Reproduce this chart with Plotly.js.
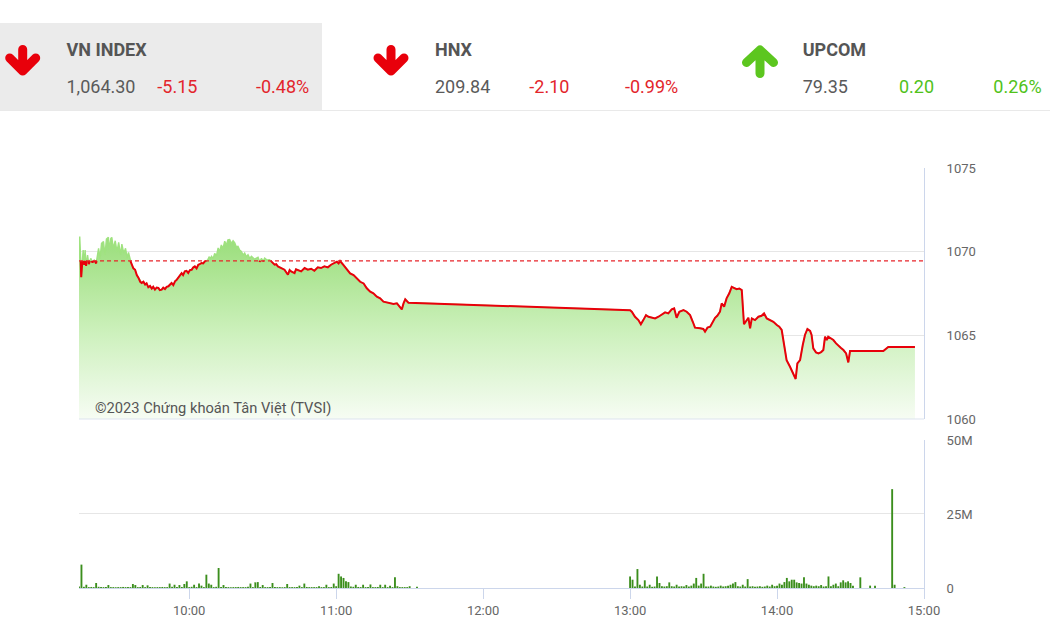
<!DOCTYPE html>
<html>
<head>
<meta charset="utf-8">
<script src="https://cdn.plot.ly/plotly-3.0.1.min.js"></script>
<style>
  html, body { margin:0; padding:0; background:#fff; }
  body { width:1050px; height:630px; position:relative; overflow:hidden; font-family: Roboto, "Noto Sans", sans-serif; }
  #chart { position:absolute; left:0; top:0; width:1050px; height:630px; }
  .hb { position:absolute; white-space:nowrap; line-height:18px; font-size:18px; }
  .ttl { font-weight:bold; color:#555; }
  .val { color:#5a5a5a; }
  .dn { color:#e3252b; }
  .up { color:#50c21a; }
</style>
</head>
<body>
<div id="chart"></div>
<div style="position:absolute;left:0;top:23px;width:322px;height:88px;background:#ebebeb;"></div>
<div style="position:absolute;left:0;top:110px;width:1050px;height:1px;background:#e9e9e9;"></div>
<svg style="position:absolute;left:0;top:0;" width="1050" height="120">
  <path d="M22.7 49.5 V71 M9.7 58 L22.7 71 L35.7 58" stroke="#e8000b" stroke-width="9" fill="none" stroke-linecap="round" stroke-linejoin="round"/>
  <path d="M391 49.5 V71 M378 58 L391 71 L404 58" stroke="#e8000b" stroke-width="9" fill="none" stroke-linecap="round" stroke-linejoin="round"/>
  <path d="M760 73.5 V50 M746.5 62.5 L760 50 L773.5 62.5" stroke="#5cc61f" stroke-width="9" fill="none" stroke-linecap="round" stroke-linejoin="round"/>
</svg>
<div id="hdr"></div>
<script>
// ---------------- DATA ----------------
const tradeDate = "2023-06-01";
const refPrice = 1069.45;

const indexNames  = ["VN INDEX", "HNX", "UPCOM"];
const indexValues = ["1,064.30", "209.84", "79.35"];
const indexChange = ["-5.15", "-2.10", "0.20"];
const indexPct    = ["-0.48%", "-0.99%", "0.26%"];

const priceTimes = [
 "09:15:00","09:15:18","09:15:36","09:15:54","09:16:18","09:16:42","09:17:06","09:17:30","09:17:54","09:18:30",
 "09:19:00","09:19:48","09:20:30","09:21:12","09:22:00","09:22:30","09:23:00","09:23:36","09:24:12","09:25:00",
 "09:25:36","09:26:12","09:27:00","09:27:30","09:28:00","09:28:24","09:29:00","09:29:48","09:30:30","09:31:12",
 "09:32:00","09:32:30","09:33:18","09:34:00","09:34:42","09:35:12","09:35:54","09:36:30","09:37:12","09:37:54",
 "09:38:36","09:39:18","09:40:00","09:40:36","09:41:18","09:42:00","09:42:36","09:43:18","09:44:00","09:44:42",
 "09:45:18","09:46:00","09:46:42","09:47:24","09:48:00","09:48:45","09:49:24","09:50:06","09:50:48","09:51:30",
 "09:52:12","09:52:48","09:53:30","09:54:12","09:54:48","09:55:30","09:56:12","09:56:54","09:57:30","09:58:12",
 "09:58:54","09:59:36","10:00:18","10:01:00","10:01:36","10:02:18","10:03:00","10:03:42","10:04:18","10:05:00",
 "10:05:42","10:06:24","10:07:00","10:07:30","10:08:12","10:08:36","10:09:06","10:09:48","10:10:24","10:11:06",
 "10:11:48","10:12:24","10:13:06","10:13:48","10:14:30","10:15:12","10:15:48","10:16:30","10:17:12","10:17:54",
 "10:18:36","10:19:12","10:19:54","10:20:36","10:21:18","10:22:00","10:22:39","10:23:18","10:24:00","10:24:42",
 "10:25:24","10:26:42","10:28:06","10:28:48","10:29:30","10:30:12","10:30:48","10:31:48","10:32:48","10:33:30",
 "10:34:12","10:34:51","10:35:30","10:36:12","10:37:36","10:38:54","10:40:18","10:41:00","10:41:36","10:43:00",
 "10:43:36","10:44:18","10:45:42","10:47:06","10:48:24","10:49:48","10:51:06","10:52:30","10:53:48","10:55:12",
 "10:56:36","10:57:54","10:58:54","11:00:18","11:01:00","11:01:36","11:03:00","11:04:24","11:05:42","11:07:06",
 "11:08:24","11:09:48","11:11:12","11:12:30","11:13:54","11:15:12","11:16:36","11:17:57","11:19:18","11:20:42",
 "11:22:00","11:23:24","11:24:48","11:26:06","11:26:48","11:27:30","11:28:12","11:29:30",
 "13:00:00","13:00:42","13:02:00","13:03:24","13:04:24","13:05:24","13:06:30","13:07:30","13:08:48","13:10:12",
 "13:11:36","13:12:54","13:14:18","13:15:36","13:17:00","13:18:00","13:19:00","13:20:06","13:21:48","13:23:06",
 "13:24:30","13:25:36","13:26:30","13:28:36","13:29:54","13:30:36","13:31:36","13:32:42","13:33:42","13:34:42",
 "13:35:36","13:36:42","13:37:24","13:38:24","13:39:24","13:40:30","13:41:30","13:42:24","13:43:30","13:44:36",
 "13:45:36","13:46:30","13:47:18","13:48:18","13:49:00","13:49:42","13:51:00","13:52:24","13:53:42","13:54:42",
 "13:55:48","13:57:06","13:58:30","13:59:54","14:00:54","14:01:54","14:02:36","14:03:18","14:03:54","14:05:18",
 "14:06:42","14:07:36","14:08:18","14:09:24","14:10:30","14:11:24","14:12:24","14:13:30","14:14:06","14:14:48",
 "14:15:54","14:16:54","14:18:00","14:18:54","14:19:36","14:20:18","14:20:54","14:21:54","14:23:00","14:24:06",
 "14:25:00","14:26:00","14:27:06","14:28:12","14:29:06","14:29:48","14:43:24","14:45:24","14:56:18"
];
const priceValues = [
 1069.6,1070.9,1069.9,1068.47,1069.3,1070.1,1069.2,1070.1,1069.15,1069.8,
 1069.25,1069.6,1069.35,1069.5,1069.3,1069.9,1070.2,1069.6,1070.5,1070.6,
 1069.8,1070.75,1070.86,1070.1,1070.8,1070.85,1070.2,1070.65,1070.0,1070.55,
 1069.8,1070.45,1069.9,1070.2,1069.6,1069.95,1069.48,1069.22,1069.0,1068.92,
 1068.6,1068.43,1068.2,1068.13,1068.2,1068.03,1068.1,1067.87,1067.95,1067.79,
 1067.9,1067.73,1067.85,1067.83,1067.7,1067.73,1067.85,1067.77,1067.9,1067.93,
 1068.05,1068.13,1068.0,1068.23,1068.3,1068.43,1068.6,1068.72,1068.6,1068.82,
 1068.85,1068.72,1068.9,1068.92,1069.05,1069.12,1069.0,1069.22,1069.25,1069.32,
 1069.3,1069.42,1069.45,1069.5,1069.7,1069.55,1069.72,1069.6,1069.9,1069.75,
 1070.22,1070.0,1070.4,1070.2,1070.62,1070.4,1070.7,1070.72,1070.5,1070.65,
 1070.52,1070.3,1070.32,1070.1,1070.02,1069.8,1069.92,1069.7,1069.82,1069.6,
 1069.72,1069.55,1069.66,1069.4,1069.6,1069.42,1069.62,1069.5,1069.52,1069.42,
 1069.3,1069.22,1069.25,1069.12,1069.02,1068.92,1068.62,1068.9,1068.82,1068.72,
 1068.95,1068.92,1068.82,1069.02,1068.92,1068.98,1068.86,1069.06,1069.02,1069.12,
 1069.06,1069.22,1069.3,1069.4,1069.3,1069.44,1069.2,1068.9,1068.7,1068.6,
 1068.4,1068.2,1068.1,1067.81,1067.61,1067.51,1067.31,1067.21,1067.01,1066.95,
 1066.91,1066.87,1066.91,1066.71,1066.55,1066.91,1067.15,1066.95,
 1066.5,1066.41,1066.11,1065.91,1065.66,1065.91,1066.21,1066.11,1066.05,1066.01,
 1066.11,1066.25,1066.37,1066.31,1066.55,1066.61,1066.05,1066.41,1066.51,1066.41,
 1066.21,1065.81,1065.46,1065.42,1065.38,1065.22,1065.46,1065.52,1065.81,1066.05,
 1066.17,1066.41,1066.91,1066.71,1067.21,1067.51,1067.9,1067.84,1067.76,1067.8,
 1067.7,1065.66,1065.81,1066.05,1065.42,1066.01,1065.91,1066.11,1066.17,1066.31,
 1066.01,1065.91,1065.81,1065.62,1065.52,1065.32,1064.62,1064.12,1063.52,1063.12,
 1062.73,1062.39,1063.32,1063.52,1064.42,1065.02,1065.38,1065.26,1065.02,1064.22,
 1063.98,1063.92,1064.0,1064.12,1064.92,1064.72,1064.92,1064.82,1064.72,1064.52,
 1064.42,1064.26,1064.12,1063.92,1063.38,1064.06,1064.06,1064.3,1064.3
];

// Volume (millions of shares), one value per minute from session start
const volMorningStart = "09:15:00";
const volMorning = [
 0.5,7.9,0.4,1.1,0.3,0.35,0.3,1.7,0.4,0.3,
 0.3,0.35,1.0,0.3,0.3,0.25,0.3,0.3,0.35,0.3,
 0.3,0.3,1.35,1.0,0.3,0.35,1.0,0.3,0.9,0.3,
 0.3,0.25,0.3,0.3,0.35,0.3,0.3,1.5,0.4,1.1,
 0.3,1.0,0.35,1.35,2.25,0.3,0.4,1.1,0.3,1.5,
 0.8,0.3,4.5,1.5,1.1,0.3,0.4,6.75,0.35,1.0,
 0.3,0.3,0.25,0.3,0.3,0.35,0.3,0.3,0.3,0.4,
 1.5,0.3,1.9,2.0,0.35,1.0,0.3,0.3,0.3,1.7,
 0.35,0.3,0.3,0.25,0.3,1.35,0.3,0.3,0.3,0.3,
 0.8,0.3,1.5,0.35,0.3,0.3,0.3,0.3,0.6,0.3,
 0.3,1.1,0.3,0.35,1.5,0.6,4.8,3.9,3.4,2.25,
 2.0,0.5,0.4,1.1,0.35,0.3,1.1,0.3,0.35,1.2,
 0.3,0.3,0.35,1.1,0.3,1.1,0.3,0.8,0.3,3.6,
 0.6,0.3,0.3,0.3,0.3,0.6
];
const volAfternoonStart = "13:00:00";
const volAfternoon = [
 3.9,2.8,0.5,6.4,1.1,0.5,2.6,0.5,1.1,0.4,
 0.5,3.9,1.7,0.6,0.5,0.6,1.9,0.6,0.5,1.1,
 0.5,0.6,0.5,1.0,0.5,0.8,1.5,3.4,0.8,1.5,
 4.8,0.5,0.5,0.8,0.5,0.4,0.5,0.8,0.5,0.6,
 0.8,1.1,1.5,2.0,0.6,0.5,1.1,0.5,3.0,0.5,
 0.6,0.4,0.5,0.6,0.4,0.5,0.8,0.5,1.1,0.6,
 0.8,1.5,1.1,2.0,3.4,2.25,2.8,2.8,1.9,1.7,
 1.5,3.6,1.5,1.1,0.8,0.6,0.8,0.6,1.0,0.5,
 0.6,3.9,0.6,1.1,1.5,0.6,1.9,2.6,1.9,2.25,
 1.7,0.8
];
const volLateTimes = ["11:33:00","14:34:00","14:38:00","14:40:00","14:47:00","14:48:00","14:52:00"];
const volLate      = [0.4, 3.6, 0.8, 0.8, 33.4, 1.1, 0.3];

const hourTicks  = ["10:00:00","11:00:00","12:00:00","13:00:00","14:00:00","15:00:00"];
const hourLabels = ["10:00","11:00","12:00","13:00","14:00","15:00"];
const priceTicks = [1060, 1065, 1070, 1075];
const volTicks   = [0, 25, 50];
const volTickLabels = ["0", "25M", "50M"];
const watermark = "©2023 Chứng khoán Tân Việt (TVSI)";

// ---------------- HEADER ----------------
(function(){
  const hdr = document.getElementById('hdr');
  const titleX = [66.5, 435, 802.7];
  const chgX   = [157.3, 529.3, 899];
  const pctX   = [256, 625, 993.3];
  function add(txt, cls, x, y){
    const d = document.createElement('div');
    d.className = 'hb ' + cls;
    d.style.left = x + 'px'; d.style.top = y + 'px';
    d.textContent = txt; hdr.appendChild(d);
  }
  for (let i=0;i<indexNames.length;i++){
    const dir = indexChange[i].trim().startsWith('-') ? 'dn' : 'up';
    add(indexNames[i], 'ttl', titleX[i], 41);
    add(indexValues[i], 'val', titleX[i], 78);
    add(indexChange[i], dir, chgX[i], 78);
    add(indexPct[i], dir, pctX[i], 78);
  }
})();

// ---------------- CHART ----------------
const D = tradeDate + " ";
function toMs(s){ return Date.parse(tradeDate + "T" + s + "Z"); }
function fromMs(ms){ return new Date(ms).toISOString().replace('T',' ').replace('Z',''); }

const px = priceTimes.map(t => D + t);

// red (below reference) segments of the line
const redX = [], redY = [];
for (let i=0;i<priceTimes.length;i++){
  const below = priceValues[i] <= refPrice;
  if (i>0){
    const prevBelow = priceValues[i-1] <= refPrice;
    if (prevBelow !== below){
      const t0 = toMs(priceTimes[i-1]), t1 = toMs(priceTimes[i]);
      const f = (refPrice - priceValues[i-1]) / (priceValues[i] - priceValues[i-1]);
      const cx = fromMs(t0 + f*(t1-t0));
      redX.push(cx); redY.push(refPrice);
      if (!below){ redX.push(cx); redY.push(null); }
    }
  }
  if (below){ redX.push(px[i]); redY.push(priceValues[i]); }
}

// volume bars
const volX = [], volY = [];
volMorning.forEach((v,i)=>{ volX.push(fromMs(toMs(volMorningStart) + i*60000)); volY.push(v); });
volAfternoon.forEach((v,i)=>{ volX.push(fromMs(toMs(volAfternoonStart) + i*60000)); volY.push(v); });
volLateTimes.forEach((t,i)=>{ volX.push(D + t); volY.push(volLate[i]); });

const traces = [
  {
    x: px, y: priceValues, type:'scatter', mode:'lines',
    line:{color:'#9fe27f', width:1.4},
    fill:'tozeroy',
    fillcolor:'rgba(170,230,145,0.6)',
    fillgradient:{type:'vertical', start:1060, stop:1071,
      colorscale:[[0,'rgb(246,252,243)'],[0.45,'rgb(206,241,190)'],[1,'rgb(152,221,120)']]},
    hoverinfo:'skip', xaxis:'x', yaxis:'y'
  },
  {
    x: redX, y: redY, type:'scatter', mode:'lines',
    line:{color:'#e8000b', width:2}, connectgaps:false,
    hoverinfo:'skip', xaxis:'x', yaxis:'y'
  },
  {
    x: volX, y: volY, type:'bar', width: 46000,
    marker:{color:'#3b8e1d', line:{width:0}},
    hoverinfo:'skip', xaxis:'x', yaxis:'y2'
  }
];

const gridCol = '#e6e6e6', axCol = '#ccd6eb';
const layout = {
  width:1050, height:630,
  margin:{l:79, r:126, t:168, b:42, pad:0},
  paper_bgcolor:'rgba(0,0,0,0)', plot_bgcolor:'rgba(0,0,0,0)',
  showlegend:false,
  font:{family:'Roboto, "Noto Sans", sans-serif', size:13, color:'#666'},
  xaxis:{
    type:'date', range:[D+'09:15:00', D+'15:00:00'], anchor:'y2',
    tickvals: hourTicks.map(t=>D+t), ticktext: hourLabels,
    ticks:'outside', ticklen:10, tickcolor:axCol, tickwidth:1,
    showline:true, linecolor:axCol, linewidth:1,
    showgrid:false, zeroline:false, fixedrange:true,
    tickfont:{size:13, color:'#666'}
  },
  yaxis:{
    domain:[0.4024,1], range:[1060,1075], side:'right', anchor:'x',
    tickvals: priceTicks, ticks:'', ticklabelstandoff:19,
    showline:true, linecolor:axCol, linewidth:1,
    showgrid:true, gridcolor:gridCol, gridwidth:1, zeroline:false,
    tickfont:{size:13, color:'#666'}
  },
  yaxis2:{
    domain:[0,0.3524], range:[0,50], side:'right', anchor:'x',
    tickvals: volTicks, ticktext: volTickLabels, ticks:'', ticklabelstandoff:19,
    showline:true, linecolor:axCol, linewidth:1,
    showgrid:true, gridcolor:gridCol, gridwidth:1, zeroline:false,
    tickfont:{size:13, color:'#666'}
  },
  shapes:[
    {type:'line', xref:'x domain', x0:0, x1:1, yref:'y', y0:refPrice, y1:refPrice,
     line:{color:'#e8252a', width:1.2, dash:'4px,3px'}, layer:'above'},
    {type:'line', xref:'x domain', x0:0, x1:1, yref:'y domain', y0:0, y1:0,
     line:{color:'#dde3ee', width:1}, layer:'above'}
  ],
  annotations:[
    {text: watermark, xref:'paper', yref:'paper', x:(93-79)/845, y:(588-408)/420,
     xanchor:'left', yanchor:'middle', showarrow:false,
     font:{size:14.7, color:'#555', family:'Roboto, "Noto Sans", sans-serif'}}
  ]
};

Plotly.newPlot('chart', traces, layout, {staticPlot:true, displayModeBar:false});
</script>
</body>
</html>
